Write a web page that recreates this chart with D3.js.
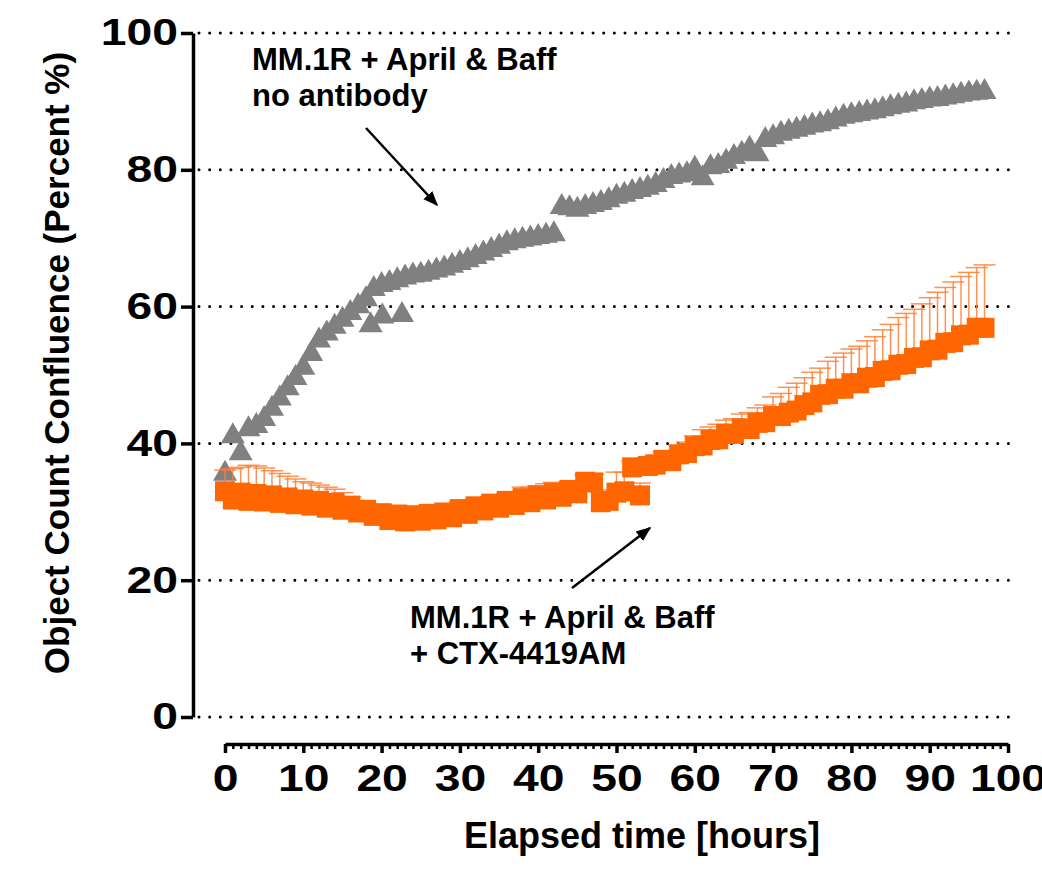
<html>
<head>
<script src="https://cdn.jsdelivr.net/npm/d3@7"></script>
<style>
body { margin: 0; background: #fff; }
text { font-family: "Liberation Sans", Arial, sans-serif; font-weight: bold; }
</style>
</head>
<body>
<svg id="chart" width="1042" height="870"></svg>
<script>
// ---- data ----
var hours = [0,1,2,3,4,5,6,7,8,9,10,11,12,13,14,15,16,17,18,19,
  20,21,22,23,24,25,26,27,28,29,30,31,32,33,34,35,36,37,38,39,
  40,41,42,43,44,45,46,47,48,49,50,51,52,53,54,55,56,57,58,59,
  60,61,62,63,64,65,66,67,68,69,70,71,72,73,74,75,76,77,78,79,
  80,81,82,83,84,85,86,87,88,89,90,91,92,93,94,95,96,97];

// MM.1R + April & Baff, no antibody (grey triangles)
var noAntibody = [36.0,41.5,39.0,42.5,43.0,44.0,45.5,47.0,48.5,50.0,
  51.5,53.5,55.5,56.5,57.5,58.5,59.5,60.5,61.5,63.0,
  63.6,63.9,64.3,64.7,65.0,65.1,65.4,65.7,66.0,66.4,
  66.8,67.2,67.7,68.2,68.7,69.2,69.7,70.0,70.2,70.4,
  70.6,70.8,71.0,75.0,74.8,74.6,75.0,75.3,75.6,76.0,
  76.5,76.8,77.2,77.5,77.8,78.2,78.8,79.4,79.6,79.8,
  80.6,79.2,80.8,81.0,81.6,82.3,82.8,83.5,82.7,84.8,
  85.2,85.7,86.0,86.3,86.6,86.9,87.1,87.4,87.8,88.2,
  88.4,88.6,88.8,89.0,89.3,89.6,89.8,90.0,90.3,90.5,
  90.7,90.8,91.0,91.2,91.4,91.6,91.7,91.8];

// a few extra grey points sitting under the curve
var noAntibodyExtraHours = [18.6, 20.1, 22.6];
var noAntibodyExtra = [57.7, 59.0, 59.2];

// MM.1R + April & Baff + CTX-4419AM (orange squares), mean and upper error
var ctx4419 = [33.0,31.8,32.8,31.6,32.6,31.5,32.4,31.3,32.1,31.1,
  31.8,30.9,31.6,30.6,31.3,30.3,30.9,29.9,30.3,29.4,
  29.8,28.8,29.6,28.6,29.5,28.7,29.7,28.9,29.9,29.2,
  30.4,29.7,30.8,30.2,31.2,30.6,31.6,31.0,32.0,31.4,
  32.4,31.8,32.8,32.2,33.2,32.7,34.4,34.3,31.4,31.6,
  32.8,33.0,36.5,32.4,36.7,36.9,37.6,37.4,38.4,38.6,
  39.6,39.7,40.5,40.6,41.4,41.4,42.2,42.1,43.0,43.1,
  44.0,44.0,44.5,44.8,45.6,46.0,47.1,47.2,48.0,48.0,
  48.8,48.8,49.6,49.7,50.6,50.7,51.5,51.6,52.5,52.6,
  53.6,53.7,54.7,54.8,55.8,55.9,56.9,56.9];

var ctx4419Err = [3.1,4.5,3.7,5.2,4.1,4.9,3.6,4.3,3.1,3.7,
  2.6,3.3,2.3,3.0,2.0,2.5,1.3,1.7,0.9,1.2,
  1.0,1.2,0.9,1.1,1.0,1.2,0.9,1.2,1.0,1.1,
  1.0,1.2,1.0,1.1,1.0,1.2,1.1,1.3,1.6,2.2,
  1.4,2.3,1.5,1.7,1.2,1.4,1.0,1.2,1.5,1.6,
  3.0,2.8,1.0,1.8,1.2,1.4,1.2,1.5,1.3,1.6,
  1.5,2.3,1.9,2.2,2.0,2.2,2.1,2.4,2.2,2.5,
  2.8,3.3,3.7,4.0,4.0,4.4,3.9,4.8,4.6,5.2,
  5.0,5.4,5.4,5.9,6.0,6.7,6.9,7.4,7.1,7.8,
  7.7,8.4,8.1,8.8,8.6,9.1,8.8,9.2];

var yTicks = [0, 20, 40, 60, 80, 100];
var xTicks = [0, 10, 20, 30, 40, 50, 60, 70, 80, 90, 100];

var grey = "#808080";
var orange = "#ff6600";

var svg = d3.select("#chart");

var x = d3.scaleLinear().domain([0, 100]).range([225, 1008]);
var y = d3.scaleLinear().domain([0, 100]).range([717, 33]);

// dotted grid
svg.append("g").selectAll("line")
  .data(yTicks)
  .enter().append("line")
  .attr("x1", 199).attr("x2", 1010)
  .attr("y1", function(d) { return y(d); })
  .attr("y2", function(d) { return y(d); })
  .attr("stroke", "#000")
  .attr("stroke-width", 3)
  .attr("stroke-linecap", "round")
  .attr("stroke-dasharray", "0,10.65");

// y axis
var yAxis = svg.append("g")
  .attr("transform", "translate(193,0)")
  .call(d3.axisLeft(y).tickValues(yTicks).tickSize(12).tickSizeOuter(0).tickPadding(3));

// x axis: minor ticks then major ticks
svg.append("g")
  .attr("transform", "translate(0,744)")
  .call(d3.axisBottom(x).tickValues(d3.range(0, 101).filter(function(d) { return d % 10 != 0; }))
    .tickSize(5).tickSizeOuter(0).tickFormat(""))
  .call(function(g) { g.select(".domain").remove(); })
  .selectAll("line").attr("stroke-width", 2.5);

var xAxis = svg.append("g")
  .attr("transform", "translate(0,744)")
  .call(d3.axisBottom(x).tickValues(xTicks).tickSize(9).tickSizeOuter(0).tickPadding(12));

[yAxis, xAxis].forEach(function(g) {
  g.select(".domain").attr("stroke-width", 3.5);
  g.selectAll(".tick line").attr("stroke-width", 3.5);
  g.selectAll(".tick text")
    .attr("font-family", "'Liberation Sans', Arial, sans-serif")
    .attr("font-weight", "bold")
    .attr("font-size", 37)
    .attr("fill", "#000")
    .each(function() {
      var w = this.getComputedTextLength();
      d3.select(this).attr("textLength", w * 1.25).attr("lengthAdjust", "spacingAndGlyphs");
    });
});

// grey triangles
var tri = "M0,-11L12,10L-12,10Z";
svg.append("g").selectAll("path")
  .data(hours.map(function(h, i) { return [h, noAntibody[i]]; })
    .concat(noAntibodyExtraHours.map(function(h, i) { return [h, noAntibodyExtra[i]]; })))
  .enter().append("path")
  .attr("d", tri)
  .attr("transform", function(d) { return "translate(" + x(d[0]) + "," + y(d[1]) + ")"; })
  .attr("fill", grey);

// orange error bars (upper only)
var errG = svg.append("g")
  .attr("stroke", "#ff7f33")
  .attr("stroke-opacity", 0.85)
  .attr("stroke-width", 1.5);
hours.forEach(function(h, i) {
  var top = y(ctx4419[i] + ctx4419Err[i]);
  errG.append("line")
    .attr("x1", x(h)).attr("x2", x(h))
    .attr("y1", y(ctx4419[i])).attr("y2", top);
  errG.append("line")
    .attr("x1", x(h) - 11).attr("x2", x(h) + 11)
    .attr("y1", top).attr("y2", top);
});

// orange squares
svg.append("g").selectAll("rect")
  .data(hours)
  .enter().append("rect")
  .attr("x", function(d) { return x(d) - 10; })
  .attr("y", function(d, i) { return y(ctx4419[i]) - 10; })
  .attr("width", 20)
  .attr("height", 20)
  .attr("fill", orange);

// axis titles
svg.append("text")
  .attr("transform", "translate(69,363) rotate(-90)")
  .attr("text-anchor", "middle")
  .attr("font-size", 35)
  .text("Object Count Confluence (Percent %)");

svg.append("text")
  .attr("x", 642).attr("y", 848)
  .attr("text-anchor", "middle")
  .attr("font-size", 36)
  .text("Elapsed time [hours]");

// annotations
svg.append("defs").append("marker")
  .attr("id", "head")
  .attr("viewBox", "0 0 10 10")
  .attr("refX", 9).attr("refY", 5)
  .attr("markerWidth", 6).attr("markerHeight", 6)
  .attr("orient", "auto")
  .append("path").attr("d", "M0,1L10,5L0,9Z").attr("fill", "#000");

var notes = [
  { lines: ["MM.1R + April & Baff", "no antibody"], x: 252, y: 70 },
  { lines: ["MM.1R + April & Baff", "+ CTX-4419AM"], x: 410, y: 628 }
];
notes.forEach(function(n) {
  n.lines.forEach(function(l, i) {
    svg.append("text")
      .attr("x", n.x).attr("y", n.y + i * 36)
      .attr("font-size", 31)
      .text(l);
  });
});

var arrows = [[366, 128, 437, 205], [572, 588, 650, 528]];
svg.append("g").selectAll("line")
  .data(arrows)
  .enter().append("line")
  .attr("x1", function(d) { return d[0]; })
  .attr("y1", function(d) { return d[1]; })
  .attr("x2", function(d) { return d[2]; })
  .attr("y2", function(d) { return d[3]; })
  .attr("stroke", "#000")
  .attr("stroke-width", 2.5)
  .attr("marker-end", "url(#head)");
</script>
</body>
</html>
